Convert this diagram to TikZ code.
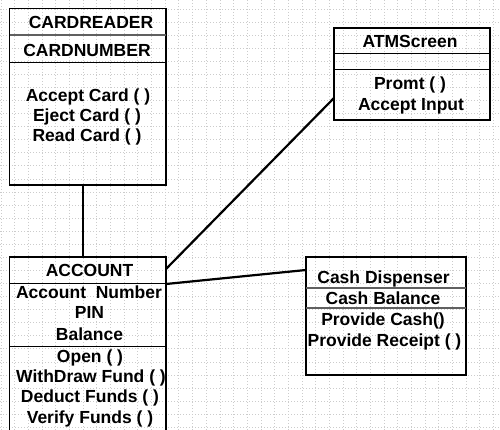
\documentclass[tikz,border=0pt]{standalone}
\usepackage{fontspec}
\setmainfont{Liberation Sans}
\usepackage{tikz}

\tikzset{
  umlbox/.style={draw, line width=1.2pt, rectangle, anchor=north west, outer sep=0pt, inner sep=0pt},
  divider/.style={line width=1pt},
  softdivider/.style={line width=1.4pt, gray!75!black},
  link/.style={line width=2.2pt},
  gridline/.style={gray!40, line width=0.7pt, dash pattern=on 1pt off 2pt},
  txt/.style={anchor=base, inner sep=0pt, font=\fontsize{17.5}{20}\selectfont\bfseries}
}

\begin{document}
\begin{tikzpicture}[x=1pt, y=-1pt]
\useasboundingbox (0,0) rectangle (500,430);
\clip (0,0) rectangle (500,430);

% background grid
\foreach \k in {0,...,36}
  \draw[gridline] (1+13.68*\k, 0) -- (1+13.68*\k, 430);
\foreach \k in {0,...,32}
  \draw[gridline] (0, 9+13.07*\k) -- (500, 9+13.07*\k);

% class boxes
\node[umlbox, minimum width=156.5pt, minimum height=176.5pt] (cardreader) at (9.5, 8.5) {};
\node[umlbox, minimum width=156pt, minimum height=92pt] (atm) at (334, 28) {};
\node[umlbox, minimum width=156.5pt, minimum height=190pt] (account) at (9.5, 257) {};
\node[umlbox, minimum width=160pt, minimum height=118pt] (cash) at (306, 257) {};

% compartments
\draw[softdivider] ([yshift=-26.5pt]cardreader.north west) -- ([yshift=-26.5pt]cardreader.north east);
\draw[divider] ([yshift=-54.5pt]cardreader.north west) -- ([yshift=-54.5pt]cardreader.north east);
\draw[divider] ([yshift=-26pt]atm.north west) -- ([yshift=-26pt]atm.north east);
\draw[divider] ([yshift=-42pt]atm.north west) -- ([yshift=-42pt]atm.north east);
\draw[divider] ([yshift=-26pt]account.north west) -- ([yshift=-26pt]account.north east);
\draw[divider] ([yshift=-89pt]account.north west) -- ([yshift=-89pt]account.north east);
\draw[softdivider] ([yshift=-31pt]cash.north west) -- ([yshift=-31pt]cash.north east);
\draw[softdivider] ([yshift=-51pt]cash.north west) -- ([yshift=-51pt]cash.north east);

% CARDREADER
\node[txt] (crname) at (91, 28.5) {CARDREADER};
\node[txt] (crattr) at (87, 56.7) {CARDNUMBER};
\node[txt] (crop1) at (88, 101.5) {Accept Card ( )};
\node[txt] (crop2) at (87, 121.5) {Eject Card ( )};
\node[txt] (crop3) at (87, 141.5) {Read Card ( )};

% ATMScreen
\node[txt] (atmname) at (410, 47.3) {ATMScreen};
\node[txt] (atmop1) at (410, 90) {Promt ( )};
\node[txt] (atmop2) at (411, 110.5) {Accept Input};

% ACCOUNT
\node[txt] (acname) at (89.5, 276.7) {ACCOUNT};
\node[txt] (acattr1) at (89, 298.3) {Account\ \ Number};
\node[txt] (acattr2) at (89.5, 318.3) {PIN};
\node[txt] (acattr3) at (89.5, 340) {Balance};
\node[txt] (acop1) at (90, 362.7) {Open ( )};
\node[txt] (acop2) at (91, 382.7) {WithDraw Fund ( )};
\node[txt] (acop3) at (90, 402.7) {Deduct Funds ( )};
\node[txt] (acop4) at (90, 423.3) {Verify Funds ( )};

% Cash Dispenser
\node[txt] (cdname) at (383.5, 283.3) {Cash Dispenser};
\node[txt] (cdattr) at (383, 304) {Cash Balance};
\node[txt] (cdop1) at (383, 325) {Provide Cash()};
\node[txt] (cdop2) at (384.5, 346.5) {Provide Receipt ( )};

% associations
\draw[link] ([xshift=-5pt]cardreader.south) -- ([xshift=-5pt]account.north);
\draw[link] ([yshift=-12pt]account.north east) -- ([yshift=22pt]atm.south west);
\draw[link] ([yshift=-27pt]account.north east) -- ([yshift=-13pt]cash.north west);

\end{tikzpicture}
\end{document}
